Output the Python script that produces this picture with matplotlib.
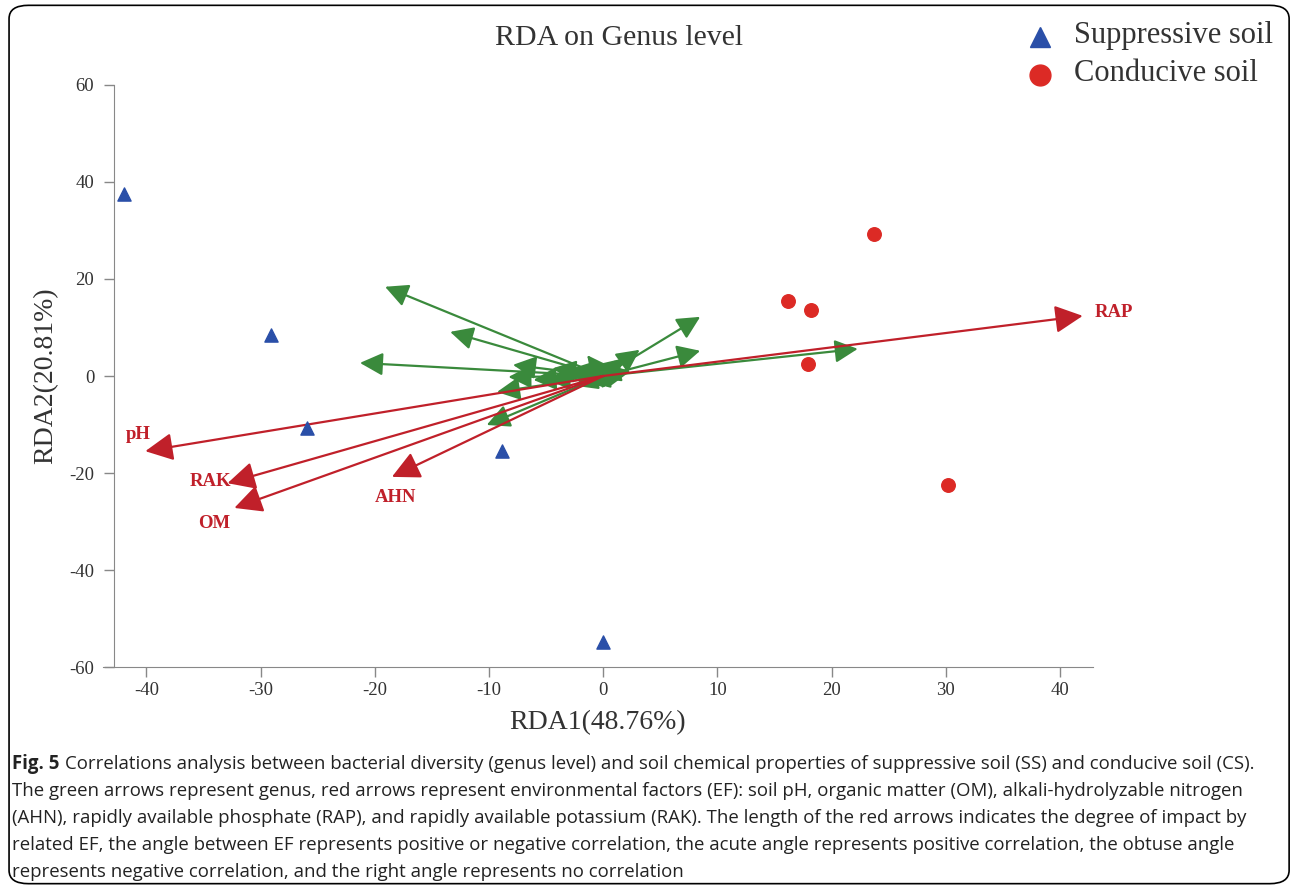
import matplotlib.pyplot as plt
from matplotlib.patches import FancyBboxPatch

plt.rcParams['axes.unicode_minus'] = False

# sample scores
ss_x = [-42.0, -29.1, -25.9, -8.9, 0.0]
ss_y = [37.5, 8.5, -10.7, -15.5, -54.8]
cs_x = [23.7, 16.2, 18.2, 17.9, 30.2]
cs_y = [29.3, 15.5, 13.6, 2.5, -22.5]

# environmental factors (red arrows)
ef_names = ['RAP', 'pH', 'RAK', 'OM', 'AHN']
ef_x = [42.0, -40.1, -32.9, -32.3, -18.5]
ef_y = [12.4, -15.5, -22.1, -27.2, -20.8]

# genus (green arrows)
gen_x = [-19.1, -13.4, -21.3, 8.5, 8.5, 22.3, -10.2, -7.9, -8.3, -9.3, -4.4, -6.1,
         -1.4, 3.2, 1.9, 0.3, -3.2, -4.9, 1.5, -0.5, -2.0, -2.5, 2.4]
gen_y = [18.4, 9.1, 2.7, 12.2, 5.2, 5.6, -10.1, 2.3, -0.2, -3.3, 1.6, -0.8,
         4.3, 5.4, 3.7, 2.7, 1.2, -0.8, 1.2, -0.4, -1.4, -2.0, 1.0]

serif = 'Liberation Serif'
green = '#3a8a3c'
red = '#c0202a'

fig = plt.figure(figsize=(12.93, 8.89), dpi=100)
fig.patches.append(FancyBboxPatch((0.007, 0.006), 0.990, 0.988,
                                  boxstyle='round,pad=0,rounding_size=0.015',
                                  transform=fig.transFigure, fill=False,
                                  edgecolor='black', lw=1.2))

ax = fig.add_axes([0.0797, 0.2497, 0.7656, 0.6547])

for x, y in zip(gen_x, gen_y):
    ax.annotate('', xy=(x, y), xytext=(0, 0),
                arrowprops=dict(arrowstyle='-|>,head_length=1.0,head_width=0.5',
                                color=green, lw=1.6, mutation_scale=14,
                                shrinkA=0, shrinkB=0))

for x, y in zip(ef_x, ef_y):
    ax.annotate('', xy=(x, y), xytext=(0, 0),
                arrowprops=dict(arrowstyle='-|>,head_length=1.0,head_width=0.5',
                                color=red, lw=1.6, mutation_scale=17,
                                shrinkA=0, shrinkB=0))

# labels of the red arrows
lab_off = {'RAP': (2.7, 0.7), 'pH': (-0.6, 3.5), 'RAK': (-1.5, 0.3),
           'OM': (-1.8, -3.3), 'AHN': (0.3, -4.2)}
for n, x, y in zip(ef_names, ef_x, ef_y):
    dx, dy = lab_off[n]
    ax.text(x + dx, y + dy, n, color=red, fontsize=13.5, fontweight='bold',
            family=serif, ha='center', va='center')

ax.scatter(ss_x, ss_y, marker='^', s=90, color='#2a4fa8', zorder=5)
ax.scatter(cs_x, cs_y, marker='o', s=95, color='#dc2a25', zorder=5)

ax.set_xlim(-43.8, 42.9)
ax.set_ylim(-60, 60)
ax.set_xticks(range(-40, 41, 10))
ax.set_yticks(range(-60, 61, 20))
for s in ['top', 'right']:
    ax.spines[s].set_visible(False)
for s in ['left', 'bottom']:
    ax.spines[s].set_color('#888888')
ax.spines['left'].set_position(('data', -42.8))
ax.tick_params(direction='out', length=7.5, width=1, color='#888888',
               labelsize=13.5, labelcolor='#333333', pad=3)
ax.tick_params(axis='y', pad=7)
for lab in ax.get_xticklabels() + ax.get_yticklabels():
    lab.set_family(serif)

ax.set_xlabel('RDA1(48.76%)', family=serif, fontsize=20, labelpad=8, color='#333333')
ax.set_ylabel('RDA2(20.81%)', family=serif, fontsize=20, labelpad=8, color='#333333')

fig.text(0.479, 0.957, 'RDA on Genus level', family=serif, fontsize=21.5,
         ha='center', va='center', color='#333333')

# legend
fig.lines.append(plt.Line2D([0.804], [0.958], marker='^', ms=15, color='#2a4fa8',
                            transform=fig.transFigure))
fig.lines.append(plt.Line2D([0.804], [0.916], marker='o', ms=15, color='#dc2a25',
                            transform=fig.transFigure))
fig.text(0.831, 0.960, 'Suppressive soil', family=serif, fontsize=22,
         va='center', color='#333333')
fig.text(0.831, 0.917, 'Conducive soil', family=serif, fontsize=22,
         va='center', color='#333333')

# caption
cap_font = 'Open Sans'
cap_size = 13.4
t1 = fig.text(0.009, 1 - 764 / 889, 'Fig. 5', family=cap_font, fontsize=cap_size,
              fontweight='bold', va='center', color='#222222')
ax.annotate('Correlations analysis between bacterial diversity (genus level) and soil '
            'chemical properties of suppressive soil (SS) and conducive soil (CS).',
            xy=(1, 0.5), xycoords=t1, xytext=(4, 0), textcoords='offset points',
            family=cap_font, fontsize=cap_size, va='center', color='#222222',
            annotation_clip=False)
cap_lines = [
    'The green arrows represent genus, red arrows represent environmental factors (EF): '
    'soil pH, organic matter (OM), alkali-hydrolyzable nitrogen',
    '(AHN), rapidly available phosphate (RAP), and rapidly available potassium (RAK). '
    'The length of the red arrows indicates the degree of impact by',
    'related EF, the angle between EF represents positive or negative correlation, '
    'the acute angle represents positive correlation, the obtuse angle',
    'represents negative correlation, and the right angle represents no correlation',
]
for i, line in enumerate(cap_lines):
    fig.text(0.009, 1 - (791 + 27 * i) / 889, line, family=cap_font, fontsize=cap_size,
             va='center', color='#222222')

fig.savefig('out.png', dpi=100)
